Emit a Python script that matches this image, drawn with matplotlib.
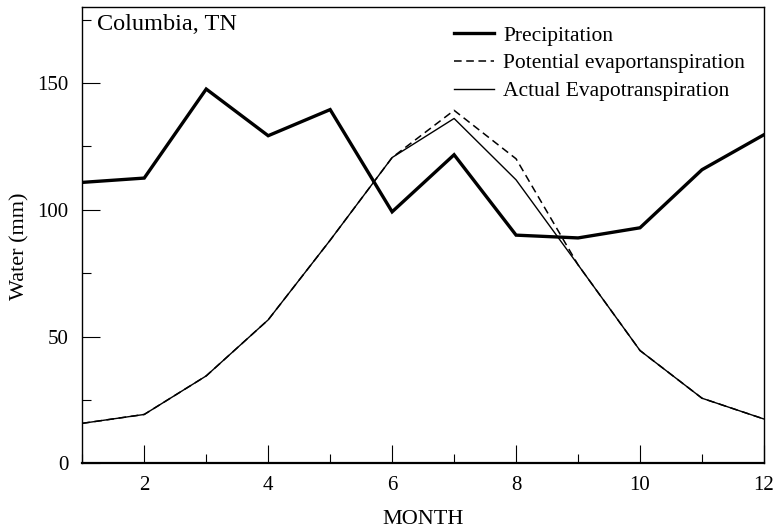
import matplotlib
matplotlib.use("Agg")
import matplotlib.pyplot as plt
from matplotlib.ticker import MultipleLocator

plt.rcParams['font.family'] = ['Liberation Serif', 'DejaVu Serif']
plt.rcParams['mathtext.fontset'] = 'stix'

months = [1, 2, 3, 4, 5, 6, 7, 8, 9, 10, 11, 12]
precipitation = [110.8, 112.5, 147.6, 129.2, 139.5, 99.2, 121.7, 90.0, 88.9, 92.9, 115.8, 129.6]
potential_et = [15.8, 19.3, 34.5, 56.6, 88.0, 120.6, 139.2, 120.1, 78.3, 44.5, 25.7, 17.5]
actual_et = [15.8, 19.3, 34.5, 56.6, 88.0, 120.6, 136.0, 111.8, 78.3, 44.5, 25.7, 17.5]

fig = plt.figure(figsize=(7.76, 5.29), dpi=100)
ax = fig.add_axes([0.106, 0.124, 0.8785, 0.863])

ax.plot(months, precipitation, color='black', lw=2.4, label='Precipitation', solid_joinstyle='miter')
ax.plot(months, potential_et, color='black', lw=1.1, ls=(0, (5, 3)), label='Potential evaportanspiration')
ax.plot(months, actual_et, color='black', lw=1.0, label='Actual Evapotranspiration')

ax.set_xlim(1, 12)
ax.set_ylim(0, 180)
ax.xaxis.set_major_locator(MultipleLocator(2))
ax.xaxis.set_minor_locator(MultipleLocator(1))
ax.yaxis.set_major_locator(MultipleLocator(50))
ax.yaxis.set_minor_locator(MultipleLocator(25))
ax.tick_params(which='both', direction='in', top=False, right=False, labelsize=15, width=0.8)
ax.tick_params(axis='x', pad=9)
ax.tick_params(axis='y', pad=10)
ax.tick_params(which='major', length=13)
ax.tick_params(which='minor', length=6.5)
for s in ax.spines.values():
    s.set_linewidth(1.0)
ax.spines['bottom'].set_linewidth(1.6)

ax.set_xlabel('MONTH', fontsize=16, labelpad=11)
ax.set_ylabel('Water (mm)', fontsize=16)
ax.yaxis.set_label_coords(-0.078, 0.476)

ax.text(0.022, 0.985, 'Columbia, TN', transform=ax.transAxes, fontsize=17.5, va='top', ha='left')

leg = ax.legend(loc='upper right', bbox_to_anchor=(1.0, 1.0), frameon=False, fontsize=15.5,
                handlelength=1.86, handletextpad=0.45, labelspacing=0.36, borderaxespad=0.47)

fig.savefig('out.png', dpi=100)
